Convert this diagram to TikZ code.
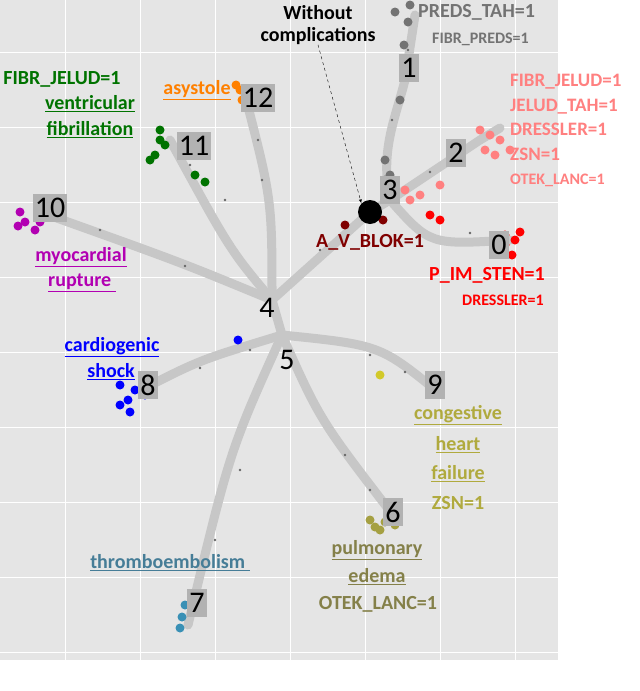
\documentclass[tikz,border=0pt]{standalone}
\usepackage{fontspec}
\setmainfont{Carlito}
\begin{document}
\begin{tikzpicture}[x=1pt,y=-1pt,
 br/.style={line width=9pt,draw=black!22,line cap=round,line join=round},
 num/.style={fill=black!30,inner sep=1.5pt,minimum width=20pt,minimum height=28pt,font=\fontsize{30}{30}\selectfont},
 lab/.style={font=\fontsize{20}{22}\selectfont\bfseries,align=center,inner sep=0pt},
 ul/.style={font=\fontsize{20}{22}\selectfont\bfseries,inner sep=1pt},
 pt/.style={circle,inner sep=0pt,minimum size=9pt}]
\useasboundingbox (0,0) rectangle (640,691);
\fill[black!10] (0,0) rectangle (558,660);
\foreach \x in {65,140,215,290,365,440,515} \draw[white,line width=1pt] (\x,0)--(\x,660);
\foreach \y in {52,127,202,277,352,427,502,577,652} \draw[white,line width=1pt] (0,\y)--(558,\y);
\coordinate (c4) at (272,300);
\coordinate (c5) at (282,335);
\coordinate (av) at (370,212);
\coordinate (c3) at (390,200);
\draw[br] (c4) .. controls (180,262) .. (40,212);
\draw[br] (c4) .. controls (230,250) .. (170,140);
\draw[br] (c4) .. controls (272,200) .. (245,95);
\draw[br] (c4) -- (av) -- (c3);
\draw[br] (c3) .. controls (380,150) and (395,120) .. (405,80) -- (415,15);
\draw[br] (c3) .. controls (420,180) .. (480,140) -- (500,128);
\draw[br] (c3) .. controls (430,245) .. (510,240);
\draw[br] (c4) -- (c5);
\draw[br] (c5) .. controls (200,360) .. (145,388);
\draw[br] (c5) .. controls (380,345) .. (438,392);
\draw[br] (c5) .. controls (320,420) .. (393,515);
\draw[br] (c5) .. controls (230,450) .. (188,625);
\foreach \p in {(100,230),(185,266),(225,200),(190,165),(262,180),(258,140),(320,250),(392,120),(408,50),(430,172),(470,233),(250,350),(200,368),(370,355),(405,372),(345,455),(370,490),(240,470),(215,540)}
 \fill[black!60] \p circle (1.3pt);
\foreach \p in {(410,5),(404,45),(408,22),(395,12),(400,100),(385,160),(390,175),(385,180)} \node[pt,fill=black!55] at \p {};
\foreach \p in {(480,130),(490,135),(500,140),(485,150),(495,155),(510,150),(405,190),(410,200),(420,195),(440,185)} \node[pt,fill=red!50] at \p {};
\foreach \p in {(430,215),(440,220),(505,235),(515,240),(520,232),(505,245),(500,252),(512,255)} \node[pt,fill=red] at \p {};
\foreach \p in {(345,225),(383,220),(385,195)} \node[pt,fill=red!50!black] at \p {};
\foreach \p in {(20,212),(25,222),(35,230),(40,222),(18,226)} \node[pt,fill=violet!60!magenta] at \p {};
\foreach \p in {(160,130),(165,145),(155,155),(150,160),(195,175),(205,182),(160,140)} \node[pt,fill=green!45!black] at \p {};
\foreach \p in {(240,90),(242,100),(236,85)} \node[pt,fill=orange] at \p {};
\foreach \p in {(238,340),(120,385),(128,400),(130,412),(145,395),(120,405),(135,390)} \node[pt,fill=blue] at \p {};
\foreach \p in {(380,375),(440,382),(430,392)} \node[pt,fill=yellow!80!black] at \p {};
\foreach \p in {(370,520),(375,527),(385,522),(380,530),(395,525)} \node[pt,fill=yellow!60!black] at \p {};
\foreach \p in {(185,605),(182,617),(197,612),(180,628)} \node[pt,fill=cyan!70!black] at \p {};
\node[circle,fill=black,minimum size=24pt,inner sep=0pt] (blk) at (av) {};
\node[num] (n0) at (499,245) {0};
\node[num] (n1) at (409,68) {1};
\node[num] (n2) at (456,153) {2};
\node[num] (n3) at (390,190) {3};
\node[num,fill=none] (n4) at (267,308) {4};
\node[num,fill=none] (n5) at (287,360) {5};
\node[num] (n6) at (393,512) {6};
\node[num] (n7) at (197,603) {7};
\node[num] (n8) at (148,385) {8};
\node[num] (n9) at (435,385) {9};
\node[num] (n10) at (50,208) {10};
\node[num] (n11) at (194,146) {11};
\node[num] (n12) at (258,98) {12};
\node[lab] (wc) at (318,25) {Without\\complications};
\draw[dashed,-latex] (wc.south) -- (blk.north west);
\node[lab,text=black!55,anchor=west] (pt1) at (418,12) {PREDS\_TAH=1};
\node[lab,text=black!55,font=\fontsize{16}{18}\selectfont\bfseries,anchor=west] (pt2) at (432,39) {FIBR\_PREDS=1};
\node[lab,text=red!50,align=left,anchor=north west,font=\fontsize{19}{24.5}\selectfont\bfseries] (rlab) at (510,74) {FIBR\_JELUD=1\\JELUD\_TAH=1\\DRESSLER=1\\ZSN=1\\{\fontsize{16}{18}\selectfont OTEK\_LANC=1}};
\node[lab,text=red!50!black] (avl) at (370,242) {A\_V\_BLOK=1};
\node[lab,text=red] (pim) at (487,275) {P\_IM\_STEN=1};
\node[lab,text=red,font=\fontsize{16}{18}\selectfont\bfseries] (dr) at (503,300) {DRESSLER=1};
\node[lab,text=green!45!black] (fj) at (62,79) {FIBR\_JELUD=1};
\node[ul,text=green!45!black] (vf1) at (90,104) {\underline{ventricular}};
\node[ul,text=green!45!black] (vf2) at (90,130) {\underline{fibrillation}};
\node[ul,text=orange] (as) at (197,90) {\underline{asystole}};
\node[ul,text=violet!60!magenta] (mr1) at (81,257) {\underline{myocardial}};
\node[ul,text=violet!60!magenta] (mr2) at (82,283) {\underline{rupture\ }};
\node[ul,text=blue] (cs1) at (112,347) {\underline{cardiogenic}};
\node[ul,text=blue] (cs2) at (111,372) {\underline{shock}};
\node[ul,text=yellow!65!black] (ch1) at (458,415) {\underline{congestive}};
\node[ul,text=yellow!65!black] (ch2) at (458,445) {\underline{heart}};
\node[ul,text=yellow!65!black] (ch3) at (458,474) {\underline{failure}};
\node[lab,text=yellow!65!black] (zsn) at (458,503) {ZSN=1};
\node[ul,text=yellow!45!black] (pe1) at (377,550) {\underline{pulmonary}};
\node[ul,text=yellow!45!black] (pe2) at (377,577) {\underline{edema}};
\node[lab,text=yellow!45!black] (ol) at (378,604) {OTEK\_LANC=1};
\node[ul,text=cyan!55!black] (te) at (170,563) {\underline{thromboembolism\ }};
\end{tikzpicture}
\end{document}
